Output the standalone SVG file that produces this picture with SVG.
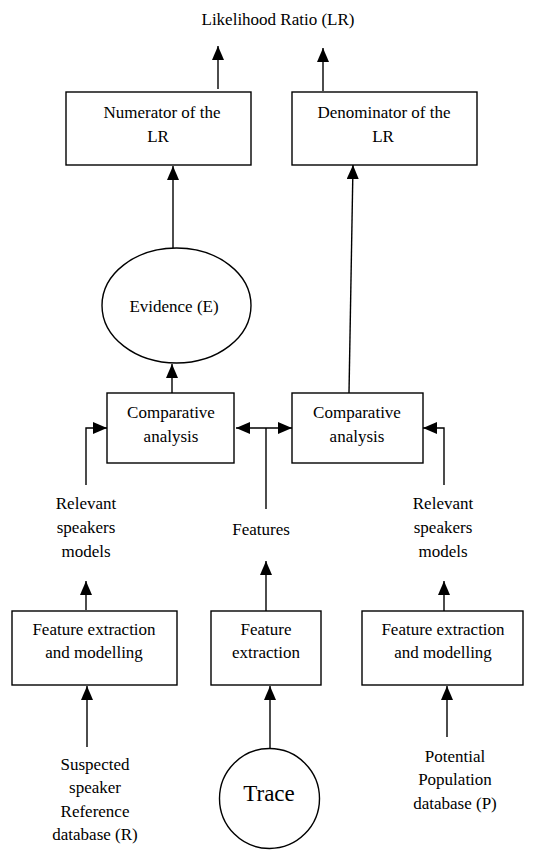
<svg xmlns="http://www.w3.org/2000/svg" width="538" height="850" viewBox="0 0 538 850">
<style>
  .box { fill: #fff; stroke: #000; stroke-width: 1.4; }
  .lbl { font-family: "Liberation Serif", "Times New Roman", serif; font-size: 17px; fill: #000; text-anchor: middle; }
  .big { font-size: 23px; }
  .cn { fill: none; stroke: #000; stroke-width: 1.4; }
  .ar { marker-end: url(#ah); }
</style>
<defs>
  <marker id="ah" markerUnits="userSpaceOnUse" markerWidth="14" markerHeight="12" refX="14" refY="6" orient="auto">
    <path d="M0,0 L14,6 L0,12 z" fill="#000"/>
  </marker>
  <marker id="as" markerUnits="userSpaceOnUse" markerWidth="14" markerHeight="12" refX="14" refY="6" orient="auto-start-reverse">
    <path d="M0,0 L14,6 L0,12 z" fill="#000"/>
  </marker>
</defs>
<rect width="538" height="850" fill="#fff"/>

<g id="title"><text class="lbl" x="278" y="25">Likelihood Ratio (LR)</text></g>

<g id="numerator">
  <rect class="box" x="66" y="92" width="185" height="73"/>
  <text class="lbl" x="162" y="118">Numerator of the</text>
  <text class="lbl" x="158" y="142">LR</text>
</g>
<g id="denominator">
  <rect class="box" x="292" y="92" width="185" height="73"/>
  <text class="lbl" x="384" y="118">Denominator of the</text>
  <text class="lbl" x="383" y="142">LR</text>
</g>
<g id="evidence">
  <ellipse class="box" cx="176.5" cy="305.5" rx="74.5" ry="57.5"/>
  <text class="lbl" x="174" y="312">Evidence (E)</text>
</g>
<g id="comp-left">
  <rect class="box" x="107" y="393" width="127" height="70"/>
  <text class="lbl" x="171" y="418">Comparative</text>
  <text class="lbl" x="171" y="442">analysis</text>
</g>
<g id="comp-right">
  <rect class="box" x="292" y="393" width="131" height="70"/>
  <text class="lbl" x="357" y="418">Comparative</text>
  <text class="lbl" x="357" y="442">analysis</text>
</g>
<g id="rel-left">
  <text class="lbl" x="86" y="509">Relevant</text>
  <text class="lbl" x="86" y="533">speakers</text>
  <text class="lbl" x="86" y="557">models</text>
</g>
<g id="features"><text class="lbl" x="261" y="535">Features</text></g>
<g id="rel-right">
  <text class="lbl" x="443" y="509">Relevant</text>
  <text class="lbl" x="443" y="533">speakers</text>
  <text class="lbl" x="443" y="557">models</text>
</g>
<g id="fe-left">
  <rect class="box" x="12" y="611" width="165" height="74"/>
  <text class="lbl" x="94" y="635">Feature extraction</text>
  <text class="lbl" x="94" y="658">and modelling</text>
</g>
<g id="fe-mid">
  <rect class="box" x="211" y="611" width="110" height="74"/>
  <text class="lbl" x="266" y="635">Feature</text>
  <text class="lbl" x="266" y="658">extraction</text>
</g>
<g id="fe-right">
  <rect class="box" x="362" y="611" width="161" height="74"/>
  <text class="lbl" x="443" y="635">Feature extraction</text>
  <text class="lbl" x="443" y="658">and modelling</text>
</g>
<g id="suspected">
  <text class="lbl" x="95" y="770">Suspected</text>
  <text class="lbl" x="95" y="793">speaker</text>
  <text class="lbl" x="95" y="817">Reference</text>
  <text class="lbl" x="95" y="840">database (R)</text>
</g>
<g id="trace">
  <circle class="box" cx="269.5" cy="798.5" r="50"/>
  <text class="lbl big" x="269" y="801">Trace</text>
</g>
<g id="population">
  <text class="lbl" x="455" y="762">Potential</text>
  <text class="lbl" x="455" y="785">Population</text>
  <text class="lbl" x="455" y="809">database (P)</text>
</g>

<g id="connectors">
  <line class="cn ar" x1="218" y1="89" x2="218" y2="46"/>
  <line class="cn ar" x1="323" y1="91" x2="323" y2="48"/>
  <line class="cn ar" x1="173" y1="248" x2="173" y2="166"/>
  <line class="cn ar" x1="349" y1="393" x2="353" y2="165"/>
  <line class="cn ar" x1="172" y1="393" x2="172" y2="364"/>
  <path class="cn ar" d="M86,485 V428 H107"/>
  <line class="cn" x1="236" y1="428" x2="292" y2="428" marker-start="url(#as)" marker-end="url(#ah)"/>
  <line class="cn" x1="266" y1="509" x2="266" y2="428"/>
  <path class="cn ar" d="M444,485 V428 H423"/>
  <line class="cn ar" x1="86" y1="610" x2="86" y2="581"/>
  <line class="cn ar" x1="266" y1="611" x2="266" y2="561"/>
  <line class="cn ar" x1="444" y1="611" x2="444" y2="581"/>
  <line class="cn ar" x1="87" y1="747" x2="87" y2="686"/>
  <line class="cn ar" x1="270" y1="748" x2="270" y2="686"/>
  <line class="cn ar" x1="447" y1="737" x2="447" y2="686"/>
</g>
</svg>
